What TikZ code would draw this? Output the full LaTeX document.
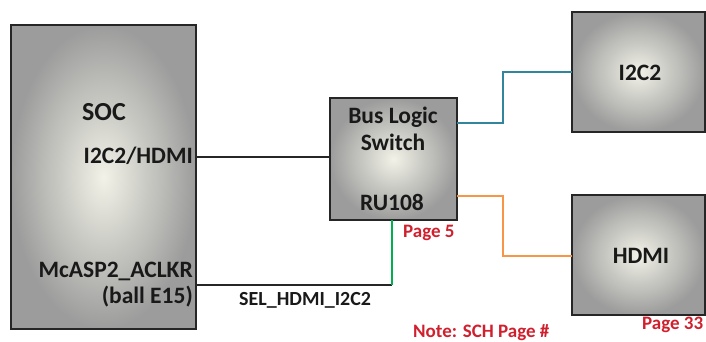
\documentclass[tikz,border=0pt]{standalone}
\usepackage{fontspec}
\setmainfont{Carlito}
\definecolor{tealline}{HTML}{31859C}
\definecolor{orangeline}{HTML}{F79646}
\definecolor{greenline}{HTML}{00B050}
\definecolor{redtext}{HTML}{D0202E}
\definecolor{boxedge}{HTML}{9C9C9C}
\definecolor{boxcenter}{HTML}{F2F2E8}
\begin{document}
\begin{tikzpicture}[x=1pt,y=-1pt,
  blk/.style={draw=black!85, line width=1.2pt, shade, inner color=boxcenter, outer color=boxedge},
  lbl/.style={font=\fontsize{23.5}{25}\selectfont\bfseries, text=black!90, inner sep=0pt},
  red/.style={font=\fontsize{19}{21}\selectfont\bfseries, text=redtext, inner sep=0pt},
  wire/.style={line width=1.4pt}]
\useasboundingbox (0,0) rectangle (706,341);
% boxes
\path[blk] (11,25) rectangle (196,329);
\path[blk] (330,98) rectangle (457,220);
\path[blk] (572,12) rectangle (705,132);
\path[blk] (572,195) rectangle (705,315);
% named coordinates
\coordinate (socA) at (196,157);
\coordinate (busA) at (330,157);
\coordinate (socB) at (196,285);
\coordinate (bend) at (392,285);
\coordinate (busB) at (392,220);
\coordinate (busT) at (457,123);
\coordinate (busO) at (457,196);
\coordinate (i2c) at (572,72);
\coordinate (hdmi) at (572,256);
% wires
\draw[wire, black!85] (socA) -- (busA);
\draw[wire, black!85] (socB) -- (bend);
\draw[wire, greenline] (bend) -- (busB);
\draw[wire, tealline] (busT) -- (503,123) -- (503,72) -- (i2c);
\draw[wire, orangeline] (busO) -- (503,196) -- (503,256) -- (hdmi);
% labels
\node[lbl, anchor=base, font=\fontsize{26}{28}\selectfont\bfseries] (t1) at (104,120) {SOC};
\node[lbl, anchor=base east] (t2) at (193,163) {I2C2/HDMI};
\node[lbl, anchor=base east] (t3) at (193,277) {McASP2\_ACLKR};
\node[lbl, anchor=base east] (t4) at (193,303) {(ball E15)};
\node[lbl, anchor=base] (t5) at (393,123) {Bus Logic};
\node[lbl, anchor=base] (t6) at (393,150) {Switch};
\node[lbl, anchor=base] (t7) at (392,210) {RU108};
\node[lbl, anchor=base] (t8) at (640,80) {I2C2};
\node[lbl, anchor=base] (t9) at (641,263) {HDMI};
\node[lbl, anchor=base west, font=\fontsize{20}{22}\selectfont\bfseries] (t10) at (239,305) {SEL\_HDMI\_I2C2};
\node[red, anchor=base west] (r1) at (403,237) {Page 5};
\node[red, anchor=base west] (r2) at (642,329) {Page 33};
\node[red, anchor=base west] (r3) at (413,337) {Note: SCH Page \#};
\end{tikzpicture}
\end{document}
